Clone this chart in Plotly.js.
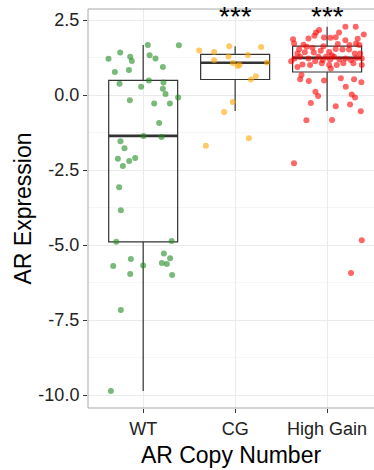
<!DOCTYPE html>
<html>
<head>
<meta charset="utf-8">
<script src="https://cdn.plot.ly/plotly-3.0.1.min.js"></script>
<style>html,body{margin:0;padding:0;background:#fff;}#chart{width:374px;height:470px;}</style>
</head>
<body>
<div id="chart"></div>
<script>
// Categories and box statistics
const categories = ["WT", "CG", "High Gain"];
const catPos = [1, 2, 3];
const boxQ1 = [-4.89, 0.52, 0.77];
const boxMedian = [-1.36, 1.08, 1.24];
const boxQ3 = [0.49, 1.36, 1.63];
const boxLower = [-9.86, -0.53, -0.53];
const boxUpper = [1.67, 1.63, 2.28];
const signif = ["", "***", "***"];

// Jittered points: expression values and horizontal jitter offsets
const wtY = [1.21,1.42,1.28,1.14,1.67,1.66,1.33,1.22,0.77,0.84,0.94,0.38,0.49,0.28,0.42,0.21,0.04,-0.08,-0.17,-0.28,-0.28,-0.93,-1.36,-1.40,-1.54,-1.77,-2.12,-2.20,-2.10,-2.36,-3.07,-3.84,-4.89,-4.86,-5.46,-5.70,-5.68,-5.96,-5.28,-5.44,-5.60,-5.63,-6.00,-7.16,-9.86];
const wtJit = [-0.377,-0.25,-0.141,-0.123,0.05,0.388,0.07,0.134,-0.308,-0.155,0.214,-0.257,0.061,-0.022,0.221,0.214,0.243,0.38,-0.145,0.12,0.29,0.174,0.004,0.2,-0.247,-0.203,-0.275,-0.152,-0.087,-0.221,-0.261,-0.243,-0.293,0.31,-0.134,-0.326,0.0,-0.141,0.225,0.293,0.203,0.257,0.315,-0.243,-0.351];

const cgY = [1.49,1.44,1.63,1.60,1.16,1.29,1.34,1.07,1.01,0.97,1.09,0.63,0.52,-0.23,-0.56,-1.44,-1.69];
const cgJit = [-0.391,-0.228,-0.065,0.283,-0.228,-0.072,0.138,-0.025,0.047,0.029,0.345,0.225,0.171,-0.025,-0.12,0.149,-0.318];

const hgY = [2.28,2.28,2.09,2.17,1.98,2.09,2.02,1.93,1.92,1.89,1.86,1.91,1.83,1.88,1.72,1.68,1.61,1.53,1.58,1.63,1.70,1.67,1.72,1.67,1.39,1.43,1.42,1.48,1.44,1.54,1.52,1.52,1.39,1.39,1.13,1.22,1.28,1.22,1.13,1.17,1.19,1.28,1.19,1.22,1.17,1.24,1.22,1.28,1.33,1.28,1.02,1.00,1.06,1.00,1.00,1.06,1.06,1.00,0.94,0.89,0.67,0.53,0.47,0.49,0.56,0.53,0.43,0.28,0.11,-0.03,0.02,-0.08,-0.26,-0.37,-0.31,-0.54,-0.84,-0.83,-2.27,-4.84,-5.93];
const hgJit = [0.199,0.311,-0.12,-0.087,-0.138,0.13,0.399,0.094,-0.033,-0.203,-0.37,0.036,0.199,0.333,-0.359,-0.257,-0.221,-0.304,-0.159,-0.04,0.116,0.243,0.315,0.351,-0.323,-0.242,-0.145,-0.069,0.022,0.094,0.167,0.239,0.301,0.359,-0.391,-0.355,-0.293,-0.203,-0.13,-0.047,0.033,0.076,0.134,0.199,0.258,0.319,0.377,-0.011,0.051,-0.095,-0.268,-0.185,-0.058,0.022,0.105,0.177,0.286,0.377,-0.323,0.04,-0.279,-0.293,-0.199,-0.033,0.149,0.293,0.373,0.203,-0.127,-0.098,0.268,0.304,-0.177,0.094,0.25,0.366,-0.225,0.054,-0.36,0.377,0.26];

const yTicks = [-10, -7.5, -5, -2.5, 0, 2.5];
const yTickText = ["-10.0", "-7.5", "-5.0", "-2.5", "0.0", "2.5"];
const yMinor = [-8.75, -6.25, -3.75, -1.25, 1.25];

const boxWidth = 0.75;

const traces = [];
traces.push({
  type: "box",
  x: catPos,
  q1: boxQ1, median: boxMedian, q3: boxQ3,
  lowerfence: boxLower, upperfence: boxUpper,
  width: boxWidth,
  fillcolor: "rgba(255,255,255,0)",
  line: {color: "#333333", width: 1.2},
  whiskerwidth: 0,
  boxpoints: false,
  showlegend: false,
  hoverinfo: "skip"
});
// thicker median segments
const mx = [], my = [];
catPos.forEach((c, i) => {
  mx.push(c - boxWidth / 2, c + boxWidth / 2, null);
  my.push(boxMedian[i], boxMedian[i], null);
});
traces.push({type: "scatter", mode: "lines", x: mx, y: my,
  line: {color: "#333333", width: 2.6}, showlegend: false, hoverinfo: "skip"});

function pts(ys, jit, c, color) {
  return {type: "scatter", mode: "markers",
    x: jit.map(j => c + j), y: ys,
    marker: {size: 6, color: color, line: {width: 0}},
    showlegend: false, hoverinfo: "skip"};
}
traces.push(pts(wtY, wtJit, catPos[0], "rgba(34,139,34,0.6)"));
traces.push(pts(cgY, cgJit, catPos[1], "rgba(255,165,0,0.6)"));
traces.push(pts(hgY, hgJit, catPos[2], "rgba(255,0,0,0.6)"));

const annotations = [];
catPos.forEach((c, i) => {
  if (signif[i]) annotations.push({x: c, y: 2.62, xref: "x", yref: "y", text: signif[i],
    showarrow: false, yanchor: "middle", xanchor: "center",
    font: {family: "Liberation Sans, Arial, sans-serif", size: 28, color: "#000"}});
});

const layout = {
  width: 374, height: 470,
  margin: {l: 88, r: 0, t: 9, b: 62, pad: 0},
  paper_bgcolor: "#fff", plot_bgcolor: "#fff",
  font: {family: "Liberation Sans, Arial, sans-serif"},
  showlegend: false,
  xaxis: {
    range: [0.4, 3.51], tickvals: catPos, ticktext: categories,
    ticks: "outside", ticklen: 4, tickcolor: "#333", tickwidth: 1,
    tickfont: {size: 18, color: "#222"},
    showgrid: true, gridcolor: "#ebebeb", gridwidth: 1,
    zeroline: false, showline: false,
    title: {text: "AR Copy Number", font: {size: 23, color: "#000"}, standoff: 9}
  },
  yaxis: {
    range: [-10.43, 2.87], tickvals: yTicks, ticktext: yTickText,
    ticks: "outside", ticklen: 4, tickcolor: "#333", tickwidth: 1,
    tickfont: {size: 18, color: "#222"},
    showgrid: true, gridcolor: "#ebebeb", gridwidth: 1,
    minor: {tickvals: yMinor, showgrid: true, gridcolor: "#f6f6f6", ticks: ""},
    zeroline: false, showline: false,
    title: {text: "AR Expression", font: {size: 23, color: "#000"}, standoff: 0}
  },
  shapes: [{type: "rect", xref: "paper", yref: "paper", x0: 0, x1: 1.1, y0: 0, y1: 1,
    line: {color: "#aaaaaa", width: 1}, fillcolor: "rgba(0,0,0,0)", layer: "above"}],
  annotations: annotations
};

Plotly.newPlot("chart", traces, layout, {staticPlot: true, displayModeBar: false});
</script>
</body>
</html>
